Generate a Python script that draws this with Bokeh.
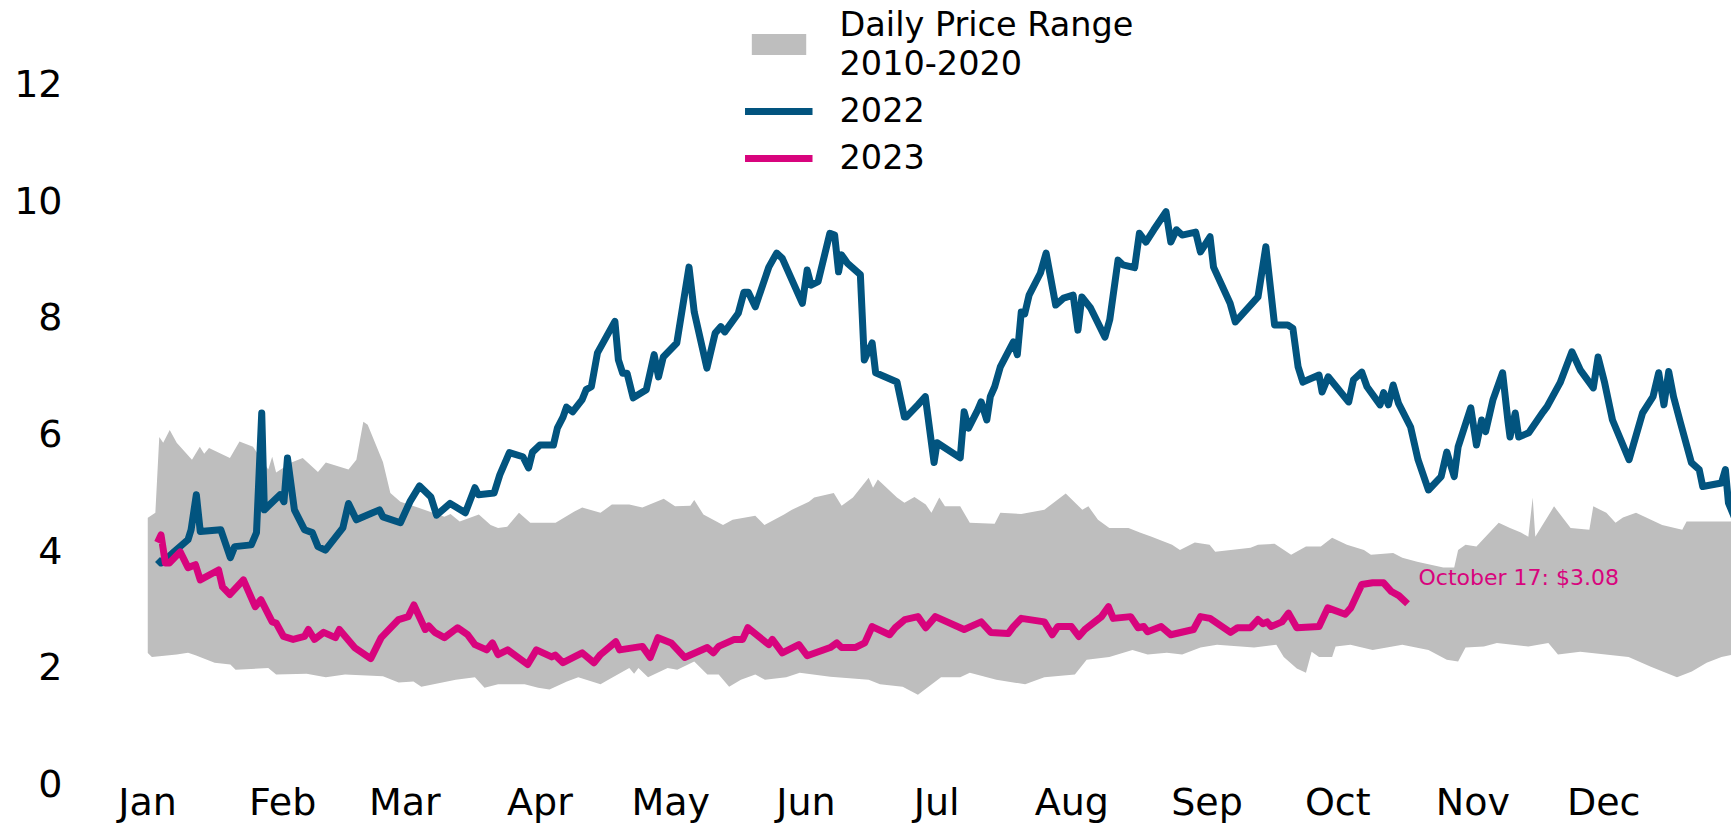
from bokeh.plotting import figure
from bokeh.models import FixedTicker, Legend, LegendItem
from bokeh.embed import file_html
from bokeh.resources import INLINE
from bokeh.core.properties import value

# ---------------- data ----------------
month_starts = [0, 31, 59, 90, 120, 151, 181, 212, 243, 273, 304, 334]
month_labels = ["Jan", "Feb", "Mar", "Apr", "May", "Jun",
                "Jul", "Aug", "Sep", "Oct", "Nov", "Dec"]
y_ticks = [0, 2, 4, 6, 8, 10, 12]

# 2022 daily price (day of year, $)
days_2022 = [2.3, 3.1, 4.9, 6.2, 9.3, 10.0, 11.2, 12.1, 16.8, 19.0, 20.0, 23.8, 25.0, 26.2, 26.8,
             30.4, 31.3, 32.1, 33.7, 36.0, 37.8, 39.1, 40.8, 44.8, 46.1, 47.9, 53.2, 54.0, 58.0,
             60.2, 62.4, 65.0, 66.3, 69.4, 72.9, 75.1, 75.9, 79.5, 80.8, 83.0, 86.1, 87.4, 88.3,
             90.0, 93.1, 94.0, 95.3, 96.1, 97.5, 99.7, 100.6, 101.8, 103.2, 107.2, 108.0, 109.0,
             110.0, 111.4, 114.4, 116.2, 117.2, 118.3, 121.4, 124.2, 125.4, 128.3, 130.2, 131.5,
             132.4, 135.5, 136.8, 137.8, 139.4, 142.5, 144.3, 145.6, 150.2, 151.3, 152.2, 153.8,
             156.5, 157.6, 158.5, 159.2, 160.5, 163.5, 164.4, 166.2, 167.0, 171.9, 173.6, 174.0,
             176.7, 178.4, 180.4, 181.1, 186.4, 187.3, 188.3, 190.4, 191.2, 192.5, 193.3, 194.3,
             195.6, 198.6, 199.5, 200.4, 201.2, 202.2, 204.8, 206.1, 208.3, 210.1, 212.3, 213.4,
             214.3, 216.3, 219.6, 220.7, 222.6, 223.7, 226.4, 227.5, 229.0, 230.8, 233.6, 234.7,
             236.0, 237.3, 240.4, 241.5, 243.7, 244.5, 248.3, 249.5, 254.7, 256.5, 258.5, 261.5,
             262.7, 263.9, 265.0, 268.7, 269.4, 270.8, 275.5, 276.6, 278.5, 279.7, 282.7, 283.5,
             284.6, 285.7, 286.9, 289.7, 291.4, 293.8, 296.7, 298.0, 299.7, 300.6, 303.5, 304.8,
             306.0, 306.9, 308.6, 310.8, 312.0, 312.5, 313.7, 314.5, 316.8, 320.1, 321.0, 324.0,
             326.7, 328.6, 331.6, 332.7, 334.2, 336.0, 339.8, 342.9, 345.3, 346.6, 347.8, 348.9,
             350.0, 351.6, 354.1, 355.9, 356.7, 361.0, 361.9, 362.6, 364.2]
price_2022 = [3.84, 3.78, 3.89, 3.98, 4.18, 4.35, 4.95, 4.32, 4.35, 3.87, 4.06, 4.09, 4.30, 6.35, 4.69,
              4.95, 4.83, 5.58, 4.69, 4.35, 4.30, 4.06, 4.00, 4.38, 4.80, 4.52, 4.69, 4.57, 4.47,
              4.83, 5.10, 4.91, 4.60, 4.80, 4.64, 5.07, 4.95, 4.98, 5.29, 5.67, 5.60, 5.41, 5.68,
              5.80, 5.80, 6.09, 6.28, 6.45, 6.37, 6.58, 6.75, 6.80, 7.38, 7.92, 7.26, 7.03,
              7.03, 6.61, 6.75, 7.35, 6.97, 7.31, 7.55, 8.85, 8.08, 7.12, 7.72, 7.83,
              7.74, 8.06, 8.42, 8.42, 8.17, 8.85, 9.09, 9.00, 8.23, 8.80, 8.54, 8.60,
              9.43, 9.40, 8.77, 9.06, 8.92, 8.72, 7.26, 7.55, 7.04, 6.88, 6.28, 6.28,
              6.49, 6.63, 5.50, 5.84, 5.58, 6.37, 6.09, 6.40, 6.54, 6.23, 6.63, 6.80,
              7.14, 7.57, 7.35, 8.08, 8.05, 8.37, 8.75, 9.09, 8.20, 8.32, 8.37, 7.77,
              8.34, 8.15, 7.65, 7.95, 8.97, 8.89, 8.84, 9.43, 9.28, 9.49, 9.80, 9.28,
              9.49, 9.40, 9.45, 9.11, 9.37, 8.85, 8.23, 7.91, 8.34, 9.20, 7.86, 7.86,
              7.80, 7.14, 6.88, 7.00, 6.71, 6.97, 6.54, 6.92, 7.05, 6.80, 6.49, 6.70,
              6.49, 6.83, 6.52, 6.11, 5.55, 5.03, 5.26, 5.68, 5.26, 5.77, 6.44, 5.80,
              6.23, 6.03, 6.58, 7.04, 6.23, 5.94, 6.35, 5.94, 6.01, 6.37, 6.46, 6.87,
              7.40, 7.09, 6.78, 7.31, 6.87, 6.23, 5.55, 6.35, 6.63, 7.04, 6.49, 7.06,
              6.63, 6.18, 5.50, 5.38, 5.09, 5.15, 5.38, 4.81, 4.52]

# 2023 daily price (day of year, $)
days_2023 = [2.3, 3.1, 4.1, 5.0, 7.5, 9.3, 11.0, 12.1, 16.3, 17.2, 18.9, 22.0, 24.7, 26.0, 28.6,
             29.5, 31.2, 33.4, 36.0, 36.9, 38.3, 40.4, 43.1, 44.0, 47.5, 51.2, 53.6, 57.6, 59.8,
             61.1, 63.7, 64.5, 65.9, 68.1, 71.1, 73.4, 75.1, 77.8, 79.1, 80.4, 82.6, 87.2, 89.2,
             92.7, 93.5, 95.3, 99.7, 102.4, 103.9, 107.4, 108.3, 113.5, 115.3, 117.1, 120.1, 123.2,
             128.4, 129.8, 131.0, 134.6, 136.5, 137.7, 142.5, 143.3, 145.6, 149.4, 151.3, 156.6,
             158.1, 159.2, 162.3, 164.5, 166.2, 170.2, 171.5, 173.7, 176.7, 178.5, 180.7, 187.3,
             191.2, 193.4, 197.4, 198.6, 200.4, 205.7, 207.5, 208.8, 211.9, 213.6, 215.0, 218.8,
             220.4, 221.5, 225.5, 227.2, 228.5, 229.4, 232.5, 234.7, 239.9, 241.5, 243.7, 248.4,
             250.0, 253.0, 254.7, 255.8, 256.8, 257.7, 260.2, 261.7, 263.6, 268.7, 270.7, 274.7,
             276.0, 278.5, 281.0, 283.5, 285.3, 287.0, 289.0]
price_2023 = [4.13, 4.26, 3.78, 3.78, 3.97, 3.70, 3.75, 3.49, 3.66, 3.37, 3.24, 3.49, 3.03, 3.15, 2.77,
              2.75, 2.52, 2.47, 2.52, 2.64, 2.47, 2.59, 2.50, 2.64, 2.33, 2.14, 2.50, 2.81, 2.86,
              3.06, 2.64, 2.70, 2.59, 2.50, 2.67, 2.55, 2.38, 2.29, 2.41, 2.21, 2.29, 2.04, 2.29,
              2.17, 2.20, 2.07, 2.24, 2.07, 2.21, 2.43, 2.29, 2.35, 2.16, 2.50, 2.41, 2.16,
              2.33, 2.24, 2.35, 2.47, 2.47, 2.67, 2.38, 2.47, 2.24, 2.38, 2.19, 2.33,
              2.41, 2.33, 2.33, 2.41, 2.69, 2.55, 2.67, 2.81, 2.86, 2.67, 2.86, 2.64,
              2.77, 2.59, 2.57, 2.69, 2.83, 2.77, 2.55, 2.69, 2.69, 2.52, 2.64, 2.86,
              3.03, 2.83, 2.86, 2.67, 2.69, 2.60, 2.69, 2.55, 2.64, 2.86, 2.83, 2.59,
              2.67, 2.67, 2.81, 2.74, 2.77, 2.69, 2.77, 2.92, 2.67, 2.69, 3.01, 2.90,
              3.01, 3.41, 3.44, 3.44, 3.29, 3.22, 3.08]

# 2010-2020 daily range: upper and lower envelopes
range_hi_days = [0, 1.8, 2.7, 3.6, 5.1, 6.7, 10.2, 12.0, 13.0, 14.1, 18.9, 21.1, 24.2, 27.7, 28.6,
                 29.5, 33.0, 35.6, 39.1, 40.9, 46.1, 47.9, 49.5, 50.5, 54.0, 55.7, 58.0, 62.0, 68.1,
                 69.5, 71.6, 76.0, 78.7, 80.4, 82.5, 85.2, 87.8, 93.6, 97.9, 99.7, 103.9, 106.5,
                 110.5, 113.5, 118.4, 121.0, 124.5, 125.4, 127.5, 132.0, 134.2, 139.4, 141.5, 146.0,
                 147.8, 151.7, 152.9, 157.4, 159.2, 161.8, 165.4, 166.4, 167.5, 171.9, 173.6, 175.9,
                 178.5, 179.8, 181.6, 182.9, 186.4, 188.6, 194.3, 195.6, 200.4, 205.7, 210.6, 214.4,
                 215.8, 218.0, 220.6, 225.0, 227.6, 230.3, 235.0, 236.8, 240.2, 243.6, 244.9, 253.0,
                 254.7, 258.5, 262.3, 265.7, 269.1, 271.7, 275.1, 279.0, 280.6, 285.7, 287.8, 291.2,
                 297.2, 299.7, 300.6, 302.3, 304.8, 309.9, 312.5, 315.0, 316.7, 317.7, 318.3, 322.6,
                 326.4, 330.7, 331.6, 334.6, 336.7, 338.4, 341.4, 347.4, 352.0, 353.0, 357.7, 363.6]
range_hi = [4.55, 4.64, 5.94, 5.84, 6.06, 5.84, 5.55, 5.77, 5.65, 5.75, 5.58, 5.86, 5.77, 5.38, 5.60,
            5.33, 5.50, 5.58, 5.34, 5.50, 5.38, 5.55, 6.20, 6.15, 5.51, 4.98, 4.83, 4.73, 4.57,
            4.62, 4.49, 4.61, 4.43, 4.38, 4.40, 4.64, 4.47, 4.47, 4.66, 4.73, 4.64, 4.78,
            4.78, 4.73, 4.88, 4.75, 4.76, 4.86, 4.61, 4.43, 4.52, 4.59, 4.43, 4.61,
            4.69, 4.83, 4.90, 4.98, 4.76, 4.90, 5.24, 5.07, 5.21, 4.90, 4.81, 4.91,
            4.78, 4.64, 4.90, 4.75, 4.75, 4.47, 4.45, 4.64, 4.62, 4.69, 4.97, 4.69,
            4.75, 4.52, 4.38, 4.38, 4.30, 4.23, 4.09, 4.00, 4.13, 4.09, 3.97, 4.04,
            4.09, 4.11, 3.92, 4.06, 4.06, 4.21, 4.09, 4.00, 3.92, 3.95, 3.87, 3.80,
            3.70, 3.70, 4.00, 4.09, 4.06, 4.47, 4.38, 4.30, 4.23, 4.90, 4.23, 4.75,
            4.38, 4.35, 4.75, 4.64, 4.47, 4.56, 4.64, 4.43, 4.35, 4.49, 4.49, 4.49]
range_lo_days = [0, 1.0, 6.7, 9.3, 11.0, 15.4, 19.0, 20.2, 27.7, 29.5, 36.5, 40.9, 45.3, 54.0, 57.6,
                 61.0, 62.8, 70.7, 75.1, 77.3, 80.4, 86.5, 89.6, 92.2, 96.2, 98.8, 103.9, 105.7,
                 110.5, 111.6, 112.6, 114.8, 119.3, 121.5, 125.4, 128.4, 131.0, 133.4, 136.1, 139.4,
                 141.6, 146.5, 149.6, 156.6, 165.4, 168.0, 173.2, 176.7, 182.0, 186.4, 188.6, 194.7,
                 201.3, 205.7, 212.7, 215.4, 220.6, 225.9, 229.4, 233.8, 237.3, 241.5, 245.3, 253.8,
                 258.9, 260.6, 263.6, 265.7, 267.0, 268.7, 271.7, 272.5, 275.9, 281.0, 287.8, 293.8,
                 298.0, 300.6, 302.3, 306.5, 309.5, 316.7, 321.3, 323.5, 328.6, 339.7, 344.8, 350.8,
                 354.2, 357.6, 361.0, 363.6]
range_lo = [2.24, 2.17, 2.21, 2.24, 2.20, 2.07, 2.04, 1.95, 1.98, 1.87, 1.88, 1.82, 1.87, 1.84, 1.73,
            1.75, 1.66, 1.78, 1.82, 1.64, 1.70, 1.70, 1.64, 1.61, 1.75, 1.82, 1.70, 1.78,
            1.98, 1.88, 1.98, 1.82, 1.98, 1.95, 2.09, 1.87, 1.87, 1.66, 1.78, 1.87,
            1.78, 1.82, 1.90, 1.83, 1.78, 1.70, 1.66, 1.52, 1.82, 1.82, 1.90, 1.78,
            1.70, 1.82, 1.87, 2.12, 2.17, 2.29, 2.21, 2.24, 2.21, 2.33, 2.38, 2.33,
            2.38, 2.17, 1.97, 1.90, 2.26, 2.17, 2.17, 2.35, 2.38, 2.29, 2.38, 2.29,
            2.12, 2.09, 2.33, 2.35, 2.41, 2.35, 2.41, 2.21, 2.26, 2.17, 2.00, 1.82,
            1.92, 2.07, 2.17, 2.21]

last_label = "October 17: $3.08"

# ---------------- styling ----------------
GRAY = "#bebebe"
BLUE = "#02547f"
PINK = "#d8047d"
FONT = "DejaVu Sans"

p = figure(width=1731, height=826, output_backend="svg", toolbar_location=None,
           x_range=(0, 363.3), y_range=(0, 13.42),
           min_border_left=147, min_border_right=0, min_border_top=0, min_border_bottom=0)
p.outline_line_color = None
p.xgrid.grid_line_color = None
p.ygrid.grid_line_color = None
p.background_fill_color = "white"

band_x = list(range_hi_days) + list(reversed(range_lo_days))
band_y = list(range_hi) + list(reversed(range_lo))
band = p.patch(band_x, band_y, fill_color=GRAY, line_color=None)

l22 = p.line(days_2022, price_2022, line_color=BLUE, line_width=7, line_join="round")
l23 = p.line(days_2023, price_2023, line_color=PINK, line_width=7, line_join="round")

p.text(x=[days_2023[-1]], y=[price_2023[-1]], text=[last_label],
       text_font=value(FONT), text_font_size="22px", text_color=PINK,
       text_baseline="middle", text_align="left", x_offset=11, y_offset=-26)

# axes
p.xaxis.ticker = FixedTicker(ticks=month_starts)
p.xaxis.major_label_overrides = {m: l for m, l in zip(month_starts, month_labels)}
p.yaxis.ticker = FixedTicker(ticks=y_ticks)
for ax in (p.xaxis[0], p.yaxis[0]):
    ax.axis_line_color = None
    ax.major_tick_line_color = None
    ax.minor_tick_line_color = None
    ax.major_tick_out = 0
    ax.major_tick_in = 0
    ax.minor_tick_out = 0
    ax.major_label_text_font = FONT
    ax.major_label_text_font_size = "38px"
    ax.major_label_text_color = "black"
p.xaxis.major_label_standoff = -4
p.yaxis.major_label_standoff = 85

legend = Legend(items=[
    LegendItem(label="Daily Price Range\n2010-2020", renderers=[band]),
    LegendItem(label="2022", renderers=[l22]),
    LegendItem(label="2023", renderers=[l23]),
], location="top_center", orientation="vertical",
    label_text_font=FONT, label_text_font_size="33.5px", label_text_color="black",
    label_text_line_height=1.2,
    glyph_width=68, glyph_height=26, label_standoff=27, spacing=8,
    padding=4, margin=5, border_line_color=None, background_fill_alpha=0)
p.add_layout(legend)

open("out.html", "w").write(file_html(p, INLINE))
